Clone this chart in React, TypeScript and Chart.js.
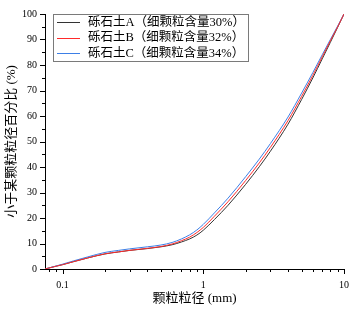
import React, { useEffect, useRef } from "react";
import { Chart, registerables } from "chart.js";

Chart.register(...registerables);

// ---- data ----
const particleSizes = [0.075, 0.08, 0.09, 0.1, 0.12, 0.15, 0.2, 0.25, 0.3, 0.4, 0.5, 0.6, 0.7, 0.8, 0.9, 1.0, 1.2, 1.5, 2.0, 2.5, 3.0, 4.0, 5.0, 6.0, 7.0, 8.0, 9.0, 10];
const passingA = [0, 0.4, 1.1, 1.7, 2.9, 4.3, 5.9, 6.7, 7.3, 8.0, 8.7, 9.5, 10.6, 11.8, 13.3, 15.2, 19.4, 25.0, 33.2, 40.1, 46.2, 56.8, 66.5, 74.9, 82.4, 88.9, 94.7, 100];
const passingB = [0, 0.4, 1.1, 1.7, 2.9, 4.3, 5.95, 6.7, 7.3, 8.1, 8.8, 9.8, 11.1, 12.5, 14.3, 16.3, 20.7, 26.4, 34.7, 41.6, 47.7, 58.2, 67.7, 75.9, 83.2, 89.5, 94.9, 100];
const passingC = [0, 0.4, 1.2, 1.9, 3.2, 4.7, 6.5, 7.3, 7.9, 8.7, 9.4, 10.4, 11.8, 13.4, 15.3, 17.5, 22.0, 27.8, 36.2, 43.1, 49.2, 59.6, 69.0, 77.0, 84.0, 90.0, 95.2, 100];
const seriesLabels = ["砾石土A（细颗粒含量30%）", "砾石土B（细颗粒含量32%）", "砾石土C（细颗粒含量34%）"];
const seriesColors = ["#333333", "#ff2a2a", "#3d7fe6"];
const xTickValues = [0.08, 0.09, 0.1, 0.2, 0.3, 0.4, 0.5, 0.6, 0.7, 0.8, 0.9, 1, 2, 3, 4, 5, 6, 7, 8, 9, 10];
const xMajorTicks = [0.1, 1, 10];
const xMajorLabels = ["0.1", "1", "10"];
const yTickValues = [0, 5, 10, 15, 20, 25, 30, 35, 40, 45, 50, 55, 60, 65, 70, 75, 80, 85, 90, 95, 100];
const xAxisTitle = "颗粒粒径 (mm)";
const yAxisTitle = "小于某颗粒粒径百分比 (%)";

const FONT = "'Liberation Serif', 'Noto Sans CJK SC', serif";

function majorIndex(v: number): number {
  for (let i = 0; i < xMajorTicks.length; i++) {
    if (Math.abs(v - xMajorTicks[i]) < 1e-9) return i;
  }
  return -1;
}

const tickMarksPlugin = {
  id: "tickMarks",
  afterDraw(chart: any) {
    const ctx = chart.ctx;
    const xs = chart.scales.x;
    const ys = chart.scales.y;
    const area = chart.chartArea;
    ctx.save();
    ctx.strokeStyle = "#000";
    ctx.lineWidth = 1;
    ctx.beginPath();
    xs.ticks.forEach((t: any) => {
      const px = Math.round(xs.getPixelForValue(t.value)) + 0.5;
      const len = majorIndex(t.value) >= 0 ? 5 : 3;
      ctx.moveTo(px, area.bottom);
      ctx.lineTo(px, area.bottom + len);
    });
    ys.ticks.forEach((t: any) => {
      const py = Math.round(ys.getPixelForValue(t.value)) + 0.5;
      const len = t.value % 10 === 0 ? 5 : 3;
      ctx.moveTo(area.left - len, py);
      ctx.lineTo(area.left, py);
    });
    ctx.stroke();
    ctx.restore();
  },
};

const boxLegendPlugin = {
  id: "boxLegend",
  afterDraw(chart: any) {
    const ctx = chart.ctx;
    const area = chart.chartArea;
    const left = area.left + 8;
    const top = area.top;
    const rowH = 15.5;
    const datasets = chart.data.datasets;
    ctx.save();
    ctx.font = `12.5px ${FONT}`;
    let maxW = 0;
    datasets.forEach((d: any) => {
      maxW = Math.max(maxW, ctx.measureText(d.label).width);
    });
    const w = 35 + maxW + 3;
    const h = rowH * datasets.length + 0.5;
    ctx.fillStyle = "#fff";
    ctx.fillRect(left, top, w, h);
    ctx.strokeStyle = "#7a7a7a";
    ctx.lineWidth = 1;
    ctx.strokeRect(Math.round(left) + 0.5, Math.round(top) + 0.5, Math.round(w), Math.round(h));
    datasets.forEach((d: any, i: number) => {
      const cy = top + 8 + i * rowH;
      ctx.strokeStyle = d.borderColor;
      ctx.beginPath();
      ctx.moveTo(left + 4, Math.round(cy) + 0.5);
      ctx.lineTo(left + 27, Math.round(cy) + 0.5);
      ctx.stroke();
      ctx.fillStyle = "#000";
      ctx.textBaseline = "middle";
      ctx.textAlign = "left";
      ctx.fillText(d.label, left + 35, cy + 0.5);
    });
    ctx.restore();
  },
};

export default function App() {
  const ref = useRef<HTMLCanvasElement | null>(null);

  useEffect(() => {
    if (!ref.current) return;
    const series = [passingA, passingB, passingC];
    const chart = new Chart(ref.current, {
      type: "line",
      data: {
        datasets: series.map((vals, i) => ({
          label: seriesLabels[i],
          data: particleSizes.map((x, j) => ({ x, y: vals[j] })),
          borderColor: seriesColors[i],
          backgroundColor: seriesColors[i],
          borderWidth: 1,
          pointRadius: 0,
          fill: false,
          cubicInterpolationMode: "monotone" as const,
          order: i === 1 ? 0 : i === 2 ? 1 : 2,
        })),
      },
      options: {
        responsive: false,
        maintainAspectRatio: false,
        animation: false,
        layout: { padding: { left: 0, top: 8, right: 8, bottom: 0 } },
        plugins: {
          legend: { display: false },
          tooltip: { enabled: false },
        },
        scales: {
          x: {
            type: "logarithmic",
            min: 0.075,
            max: 10,
            afterBuildTicks(scale: any) {
              scale.ticks = xTickValues.map((v) => ({ value: v, major: majorIndex(v) >= 0 }));
            },
            afterFit(scale: any) {
              scale.height = 40;
            },
            grid: { display: false, drawTicks: false, drawOnChartArea: false },
            border: { display: true, color: "#000", width: 1 },
            ticks: {
              autoSkip: false,
              maxRotation: 0,
              padding: 10,
              color: "#000",
              font: { family: FONT, size: 10 },
              callback(value: any) {
                const k = majorIndex(Number(value));
                return k >= 0 ? xMajorLabels[k] : "";
              },
            },
            title: {
              display: true,
              text: xAxisTitle,
              color: "#000",
              font: { family: FONT, size: 13 },
              padding: { top: 0, bottom: 3 },
            },
          },
          y: {
            type: "linear",
            min: 0,
            max: 100,
            afterBuildTicks(scale: any) {
              scale.ticks = yTickValues.map((v) => ({ value: v }));
            },
            afterFit(scale: any) {
              scale.width = 45;
            },
            grid: { display: false, drawTicks: false, drawOnChartArea: false },
            border: { display: true, color: "#000", width: 1 },
            ticks: {
              autoSkip: false,
              padding: 8,
              color: "#000",
              font: { family: FONT, size: 10 },
              callback(value: any) {
                const v = Number(value);
                return v % 10 === 0 ? String(v) : "";
              },
            },
            title: {
              display: true,
              text: yAxisTitle,
              color: "#000",
              font: { family: FONT, size: 13 },
              padding: { top: 4, bottom: 0 },
            },
          },
        },
      },
      plugins: [tickMarksPlugin, boxLegendPlugin],
    } as any);
    return () => chart.destroy();
  }, []);

  return (
    <div style={{ position: "absolute", left: 0, top: 0, width: 359, height: 309, background: "#fff" }}>
      <canvas ref={ref} width={359} height={309} style={{ display: "block" }} />
    </div>
  );
}
